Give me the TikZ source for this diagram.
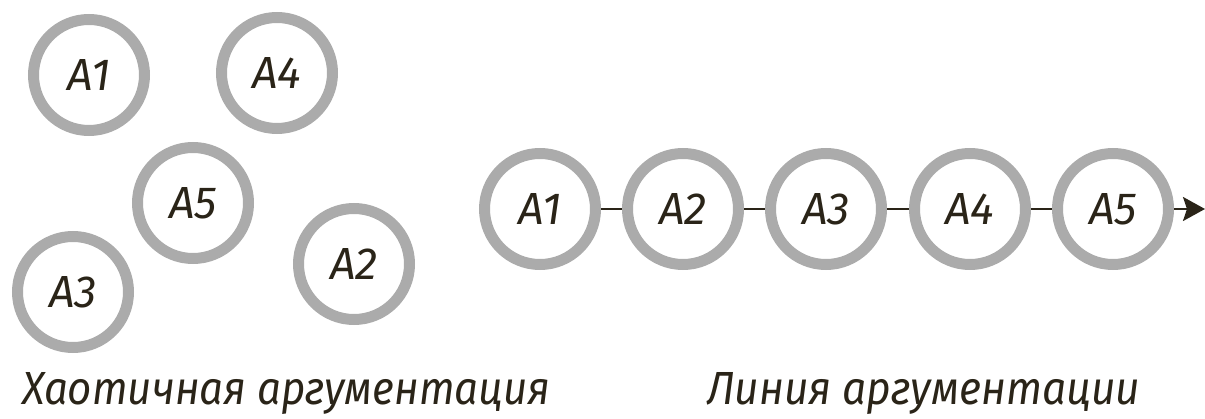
\documentclass[tikz,border=0pt]{standalone}
\usepackage{fontspec}
\usetikzlibrary{arrows.meta}
\newfontfamily\hand{Fira Sans}
\definecolor{ring}{HTML}{ABABAB}
\definecolor{ink}{HTML}{2A2418}
\begin{document}
\begin{tikzpicture}[x=1pt,y=-1pt,
  arg/.style={circle,draw=ring,line width=11pt,fill=white,minimum size=111pt,inner sep=0pt,
    font=\hand\itshape\fontsize{45}{45}\selectfont,text=ink},
  link/.style={draw=ink,line width=2.4pt},
  caption/.style={anchor=base west,inner sep=0pt,text=ink}]
\useasboundingbox (0,0) rectangle (1205,419);
% chaotic
\node[arg] (c1) at (89,75) {A1};
\node[arg] (c4) at (277,73) {A4};
\node[arg] (c5) at (193,203) {A5};
\node[arg] (c2) at (354,264) {A2};
\node[arg] (c3) at (73,292) {A3};
% line
\node[arg] (l1) at (540,209) {A1};
\node[arg] (l2) at (683,209) {A2};
\node[arg] (l3) at (826,209) {A3};
\node[arg] (l4) at (970,209) {A4};
\node[arg] (l5) at (1113,209) {A5};
\coordinate (tip) at (1205,209);
\draw[link] (l1) -- (l2);
\draw[link] (l2) -- (l3);
\draw[link] (l3) -- (l4);
\draw[link] (l4) -- (l5);
\draw[link,-{Stealth[length=22pt,width=24pt,inset=4pt]}] (l5) -- (tip);
% captions
\node[caption] (cap1) at (22,405) {\resizebox{528pt}{32pt}{\hand\itshape Хаотичная аргументация}};
\node[caption] (cap2) at (707,405) {\resizebox{433pt}{32pt}{\hand\itshape Линия аргументации}};
\end{tikzpicture}
\end{document}
